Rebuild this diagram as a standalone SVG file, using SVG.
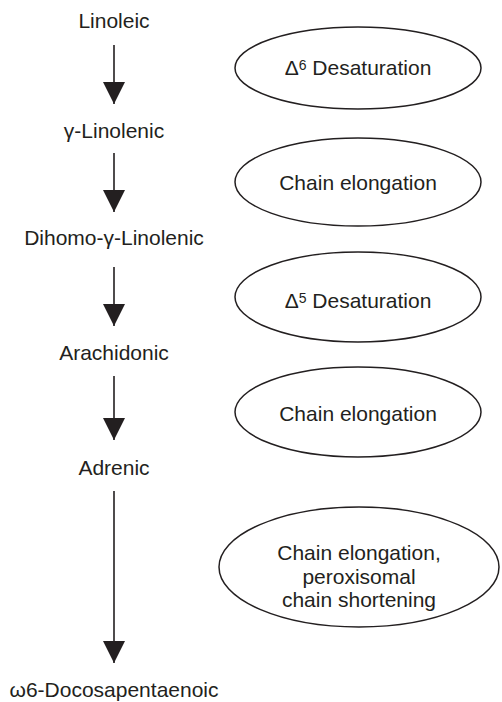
<svg xmlns="http://www.w3.org/2000/svg" width="502" height="702" viewBox="0 0 502 702">
  <style>
    .lbl { font-family: "Liberation Sans", Arial, sans-serif; font-size: 21px; fill: #231f20; text-anchor: middle; }
    .step { fill: none; stroke: #231f20; stroke-width: 1.5; }
    .flow { stroke: #231f20; stroke-width: 1.6; fill: none; marker-end: url(#head); }
  </style>
  <defs>
    <marker id="head" viewBox="0 0 22 22" refX="22" refY="11" markerWidth="22" markerHeight="22" markerUnits="userSpaceOnUse" orient="auto">
      <path d="M0,0 L22,11 L0,22 z" fill="#231f20"/>
    </marker>
  </defs>
  <rect width="502" height="702" fill="#ffffff"/>

  <!-- fatty acids -->
  <g id="linoleic"><text class="lbl" x="114" y="28">Linoleic</text></g>
  <g id="gamma-linolenic"><text class="lbl" x="114" y="138">γ-Linolenic</text></g>
  <g id="dihomo-gamma-linolenic"><text class="lbl" x="114" y="245">Dihomo-γ-Linolenic</text></g>
  <g id="arachidonic"><text class="lbl" x="114" y="360">Arachidonic</text></g>
  <g id="adrenic"><text class="lbl" x="114" y="475">Adrenic</text></g>
  <g id="docosapentaenoic"><text class="lbl" x="114" y="697">ω6-Docosapentaenoic</text></g>

  <!-- enzymatic steps -->
  <g id="d6-desaturation">
    <ellipse class="step" cx="358" cy="68" rx="123" ry="41"/>
    <text class="lbl" x="358" y="75">Δ<tspan font-size="14" dy="-5">6</tspan><tspan dy="5"> Desaturation</tspan></text>
  </g>
  <g id="elongation-1">
    <ellipse class="step" cx="358" cy="182" rx="123" ry="44"/>
    <text class="lbl" x="358" y="190">Chain elongation</text>
  </g>
  <g id="d5-desaturation">
    <ellipse class="step" cx="358" cy="297" rx="123" ry="45"/>
    <text class="lbl" x="358" y="308">Δ<tspan font-size="14" dy="-5">5</tspan><tspan dy="5"> Desaturation</tspan></text>
  </g>
  <g id="elongation-2">
    <ellipse class="step" cx="358" cy="412" rx="123" ry="45"/>
    <text class="lbl" x="358" y="421">Chain elongation</text>
  </g>
  <g id="elongation-shortening">
    <ellipse class="step" cx="359" cy="567" rx="140" ry="60"/>
    <text class="lbl" x="359" y="560">Chain elongation,</text>
    <text class="lbl" x="359" y="584">peroxisomal</text>
    <text class="lbl" x="359" y="607">chain shortening</text>
  </g>

  <!-- pathway arrows -->
  <g id="connectors">
    <line class="flow" x1="114" y1="45" x2="114" y2="104"/>
    <line class="flow" x1="114" y1="153" x2="114" y2="212"/>
    <line class="flow" x1="114" y1="267" x2="114" y2="326"/>
    <line class="flow" x1="114" y1="376" x2="114" y2="440"/>
    <line class="flow" x1="114" y1="491" x2="114" y2="663"/>
  </g>
</svg>
